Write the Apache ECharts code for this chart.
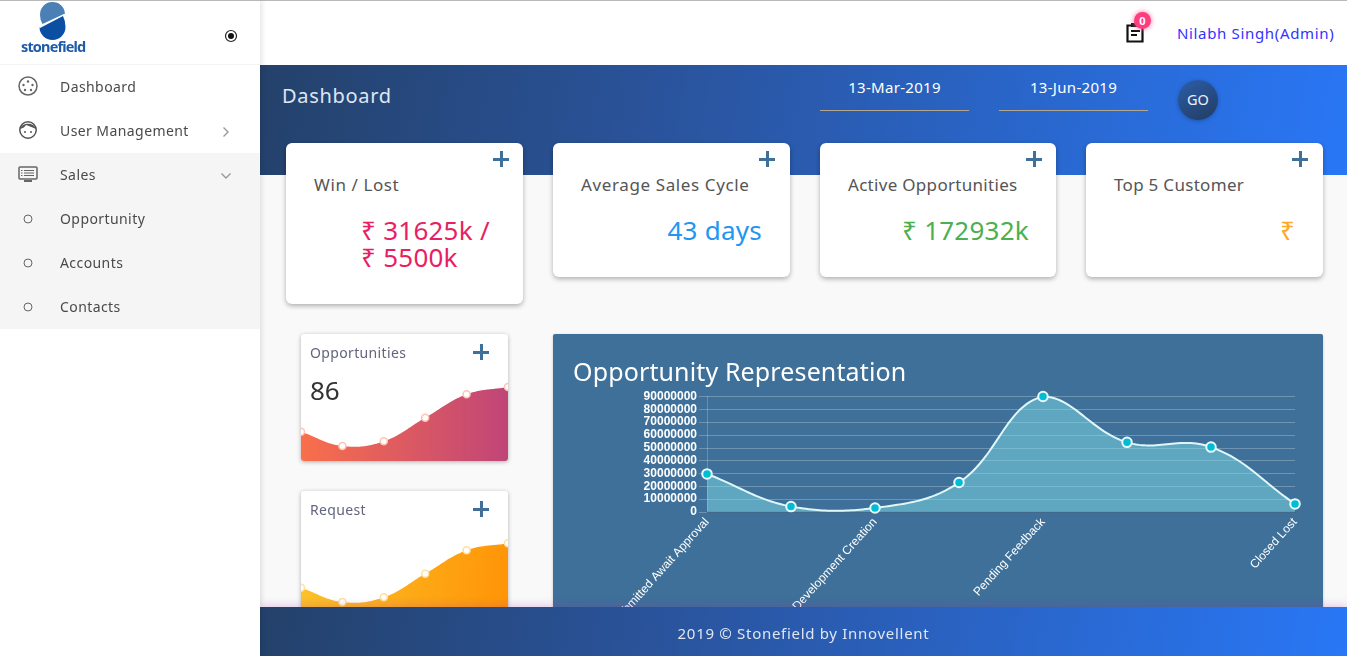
<!DOCTYPE html>
<html><head><meta charset="utf-8"><title>Dashboard</title>
<script src="https://cdn.jsdelivr.net/npm/echarts@6/dist/echarts.min.js"></script>
<style>
html,body{margin:0;padding:0;width:1347px;height:656px;overflow:hidden;background:#f9f9f9;font-family:"Noto Sans",sans-serif;color:#3c4858}
.abs,.abs *{box-sizing:border-box}
.abs{position:absolute}
#top{left:0;top:0;width:1347px;height:65px;background:#fff;border-top:1px solid #b9b9b9}
#hero{left:260px;top:65px;width:1087px;height:110px;background:linear-gradient(100deg,#24416a 0%,#2a55a0 40%,#2977f6 100%)}
#side{left:0;top:0;width:260px;height:656px;background:#fff;box-shadow:1px 0 6px rgba(0,0,0,.14);z-index:5;border-top:1px solid #b9b9b9}
#sales{left:0;top:152px;width:260px;height:176px;background:#f5f5f5}
#div{left:0;top:63px;width:260px;height:1px;background:#f3f3f3}
.nav{position:absolute;left:60px;font-size:14px;letter-spacing:.42px;color:#4a4a4a;line-height:20px}
.ico{position:absolute}
.card{position:absolute;background:#fff;border-radius:6px;box-shadow:0 2px 5px rgba(0,0,0,.3)}
.plus{position:absolute;width:16px;height:16px}
.plus:before,.plus:after{content:"";position:absolute;background:#3e7099}
.plus:before{left:0;top:6.5px;width:16px;height:3px}
.plus:after{left:6.5px;top:0;width:3px;height:16px}
.ct{position:absolute;font-size:17px;letter-spacing:.3px;color:#555;line-height:22px;white-space:nowrap}
.cv{position:absolute;font-size:26px;letter-spacing:.25px;line-height:27px;white-space:nowrap}
.rs{margin-right:7px}
.mini{position:absolute;left:301px;width:207px;background:#fff;border-radius:3px;overflow:hidden;box-shadow:0 1px 4px rgba(0,0,0,.3)}
.mt{position:absolute;left:9px;top:9px;font-size:14px;letter-spacing:.35px;color:#62657c;line-height:20px}
.mc{position:absolute;left:0;top:0;width:207px;height:127px}
#oppCard{left:553px;top:334px;width:770px;height:322px;background:#3e7099;border-radius:2px;box-shadow:0 1px 3px rgba(0,0,0,.2)}
#oppTitle{position:absolute;left:20px;top:20px;font-size:25px;letter-spacing:.13px;color:#fff;line-height:34px;white-space:nowrap}
#oppChart{position:absolute;left:0;top:0;width:770px;height:322px}
#foot{left:260px;top:607px;width:1087px;height:49px;background:linear-gradient(100deg,#24416a 0%,#2a55a0 40%,#2977f6 100%);box-shadow:0 -2px 8px rgba(156,39,176,.22);z-index:4;color:#dfe6f2;font-size:15px;text-align:center;line-height:52px;letter-spacing:.7px}
</style></head><body>
<div class="abs" id="top"></div>
<div class="abs" id="hero"></div>

<div class="abs" id="side">
  <svg class="ico" style="left:18px;top:0" width="72" height="56" viewBox="0 0 72 56">
    <path d="M22 27 L45 15 Q47.5 20 47.5 26 A13 13 0 0 1 21.5 26 Z" fill="#0b4fa3"/>
    <path d="M24.5 23 Q22 19 22 14 A12.5 12.5 0 0 1 47 13 L47 12.5 Z" fill="#4a80b5"/>
    <text x="3" y="51" font-family="Noto Sans" font-weight="700" font-size="14.5" letter-spacing="-.85" fill="#1e5ba8">stonefield</text>
  </svg>
  <svg class="ico" style="left:224px;top:28px" width="14" height="14" viewBox="0 0 14 14"><circle cx="7" cy="7" r="5.5" fill="none" stroke="#222" stroke-width="1.2"/><circle cx="7" cy="7" r="3" fill="#111"/></svg>
  <div class="abs" id="div"></div>
  <div class="abs" id="sales"></div>
  <svg class="ico" style="left:18px;top:75px" width="20" height="20" viewBox="0 0 20 20"><circle cx="10" cy="10" r="9" fill="none" stroke="#666" stroke-width="1.5"/><circle cx="10" cy="5.5" r="1.2" fill="#666"/><circle cx="5.5" cy="9" r="1.2" fill="#666"/><circle cx="14.5" cy="9" r="1.2" fill="#666"/><circle cx="7" cy="14" r="1.2" fill="#666"/><circle cx="13" cy="14" r="1.2" fill="#666"/></svg>
  <div class="nav" style="top:76px">Dashboard</div>
  <svg class="ico" style="left:18px;top:119px" width="20" height="20" viewBox="0 0 20 20"><circle cx="10" cy="10" r="8.2" fill="none" stroke="#555" stroke-width="1.5"/><path d="M2 9 C4 2 16 2 18 9 C14 7 11 6 8 5 C7 7 5 8 2 9Z" fill="#555"/><circle cx="7" cy="12" r="1" fill="#555"/><circle cx="13" cy="12" r="1" fill="#555"/></svg>
  <div class="nav" style="top:120px">User Management</div>
  <svg class="ico" style="left:222px;top:125px" width="8" height="12" viewBox="0 0 8 12"><path d="M1.5 1.5L6 6L1.5 10.5" fill="none" stroke="#999" stroke-width="1.4"/></svg>
  <svg class="ico" style="left:18px;top:165px" width="20" height="18" viewBox="0 0 20 18"><rect x="1" y="1" width="18" height="12" rx="1" fill="none" stroke="#666" stroke-width="1.5"/><path d="M6 4.5H16M6 7H16M6 9.5H16M3 4.5H4.5M3 7H4.5M3 9.5H4.5" stroke="#666" stroke-width="1.1"/><rect x="6" y="14" width="8" height="2" fill="#666"/></svg>
  <div class="nav" style="top:164px">Sales</div>
  <svg class="ico" style="left:220px;top:171px" width="12" height="8" viewBox="0 0 12 8"><path d="M1.5 1.5L6 6L10.5 1.5" fill="none" stroke="#999" stroke-width="1.4"/></svg>
  <svg class="ico" style="left:23px;top:213px" width="10" height="10"><circle cx="5" cy="5" r="4" fill="none" stroke="#666"/></svg>
  <div class="nav" style="top:208px">Opportunity</div>
  <svg class="ico" style="left:23px;top:257px" width="10" height="10"><circle cx="5" cy="5" r="4" fill="none" stroke="#666"/></svg>
  <div class="nav" style="top:252px">Accounts</div>
  <svg class="ico" style="left:23px;top:301px" width="10" height="10"><circle cx="5" cy="5" r="4" fill="none" stroke="#666"/></svg>
  <div class="nav" style="top:296px">Contacts</div>
</div>

<svg class="abs" style="left:1125px;top:20px" width="20" height="24" viewBox="0 0 20 24"><path d="M2.5 5.5H17.5V21.5H2.5Z" fill="#fff" stroke="#111" stroke-width="2.2"/><rect x="6" y="3" width="8" height="4" fill="#111"/><path d="M6 11H15M6 15H12" stroke="#111" stroke-width="2"/></svg>
<div class="abs" style="left:1134px;top:12px;width:17px;height:17px;border-radius:50%;background:#ff3d7f;box-shadow:0 0 5px #ff6b9a;color:#fff;font-size:11px;font-weight:700;text-align:center;line-height:17px">0</div>
<div class="abs" style="left:1177px;top:23px;font-size:15px;letter-spacing:.66px;color:#3333ff;line-height:20px;white-space:nowrap">Nilabh Singh(Admin)</div>

<div class="abs" style="left:282px;top:81px;font-size:20px;letter-spacing:.7px;color:#dfe6f2;line-height:30px;white-space:nowrap">Dashboard</div>
<div class="abs" style="left:820px;top:75px;width:149px;height:36px;border-bottom:1px solid #b3a68f;color:#fff;font-size:15px;letter-spacing:.3px;text-align:center;line-height:24px">13-Mar-2019</div>
<div class="abs" style="left:999px;top:75px;width:149px;height:36px;border-bottom:1px solid #b3a68f;color:#fff;font-size:15px;letter-spacing:.3px;text-align:center;line-height:24px">13-Jun-2019</div>
<div class="abs" style="left:1178px;top:80px;width:40px;height:40px;border-radius:50%;background:linear-gradient(150deg,#2b5ea8,#223c62);box-shadow:0 1px 4px rgba(0,0,0,.25);color:#eef;font-size:14.5px;text-align:center;line-height:39px">GO</div>

<div class="card" style="left:286px;top:143px;width:237px;height:161px"><div class="plus" style="left:207px;top:8px"></div><div class="ct" style="left:28px;top:31px;letter-spacing:.6px">Win / Lost</div>
  <div class="cv" style="left:75px;top:74px;color:#e91e63">₹ 31625k /<br>₹ 5500k</div></div>
<div class="card" style="left:553px;top:143px;width:237px;height:134px"><div class="plus" style="left:206px;top:8px"></div><div class="ct" style="left:28px;top:31px;letter-spacing:.62px">Average Sales Cycle</div>
  <div class="cv" style="right:28px;top:74px;color:#2196f3">43 days</div></div>
<div class="card" style="left:820px;top:143px;width:236px;height:134px"><div class="plus" style="left:206px;top:8px"></div><div class="ct" style="left:28px;top:31px">Active Opportunities</div>
  <div class="cv" style="right:27px;top:74px;color:#4caf50"><span class="rs">₹</span>172932k</div></div>
<div class="card" style="left:1086px;top:143px;width:237px;height:134px"><div class="plus" style="left:206px;top:8px"></div><div class="ct" style="left:28px;top:31px">Top 5 Customer</div>
  <div class="cv" style="right:28px;top:74px;color:#ffa726">₹</div></div>

<div class="mini" style="top:334px;height:127px"><div class="mc" id="mc1"></div><div class="mt">Opportunities</div><div class="plus" style="left:172px;top:10px"></div>
  <div style="position:absolute;left:9px;top:39px;font-size:26px;line-height:34px;color:#333">86</div></div>
<div class="mini" style="top:491px;height:127px"><div class="mc" id="mc2"></div><div class="mt">Request</div><div class="plus" style="left:172px;top:10px"></div></div>

<div class="abs" id="oppCard"><div id="oppChart"></div><div id="oppTitle">Opportunity Representation</div></div>

<div class="abs" id="foot">2019 © Stonefield by Innovellent</div>

<script>
// Only four stage names are legible; the others are not drawn in the reference.
var stages = ['Submitted Await Approval', '', 'Development Creation', '', 'Pending Feedback', '', '', 'Closed Lost'];
var amounts = [29700000, 4200000, 3100000, 23000000, 90000000, 54300000, 50600000, 6300000];
var yTicks = { min: 0, max: 90000000, step: 10000000 };
var opportunitiesTrend = [23.1, 11.8, 15.5, 34.1, 52.5, 58.3];
var requestTrend = [23.9, 12.6, 16.3, 34.9, 53.3, 58.8];
var trendSlots = ['1', '2', '3', '4', '5', '6'];

// Curve through the values, placed through the chart's own scales (api.coord).
function curveSeries(values, floor, fill, stroke, strokeWidth) {
  return {
    type: 'custom', silent: true, z: 1, clip: false, data: values.map(function (v, i) { return [i, v]; }),
    encode: { x: 0, y: 1 },
    renderItem: function (params, api) {
      if (params.dataIndex !== 0) return null;
      var pts = values.map(function (v, i) { return api.coord([i, v]); });
      var cs = params.coordSys, top = cs.y, bot = cs.y + cs.height, T = 0.4, line = [];
      var cp = pts.map(function (p, i) {
        var a = pts[i - 1] || p, b = pts[i + 1] || p;
        var d1 = Math.hypot(p[0] - a[0], p[1] - a[1]), d2 = Math.hypot(b[0] - p[0], b[1] - p[1]);
        var s = d1 + d2 || 1, f1 = T * d1 / s, f2 = T * d2 / s;
        function cap(y) { return Math.min(bot, Math.max(top, y)); }
        return [[p[0] - f1 * (b[0] - a[0]), cap(p[1] - f1 * (b[1] - a[1]))],
                [p[0] + f2 * (b[0] - a[0]), cap(p[1] + f2 * (b[1] - a[1]))]];
      });
      for (var i = 0; i < pts.length - 1; i++) {
        var p0 = pts[i], c0 = cp[i][1], c1 = cp[i + 1][0], p1 = pts[i + 1];
        for (var k = 0; k < 30; k++) {
          var t = k / 30, u = 1 - t, w = [u*u*u, 3*u*u*t, 3*u*t*t, t*t*t];
          line.push([w[0]*p0[0] + w[1]*c0[0] + w[2]*c1[0] + w[3]*p1[0],
                     w[0]*p0[1] + w[1]*c0[1] + w[2]*c1[1] + w[3]*p1[1]]);
        }
      }
      line.push(pts[pts.length - 1]);
      var left = api.coord([0, floor]), right = api.coord([values.length - 1, floor]);
      var children = [{ type: 'polygon', shape: { points: line.concat([right, left]) }, style: { fill: fill, stroke: 'none' } }];
      if (stroke) children.push({ type: 'polyline', shape: { points: line }, style: { fill: 'none', stroke: stroke, lineWidth: strokeWidth } });
      return { type: 'group', children: children };
    }
  };
}

var chart = echarts.init(document.getElementById('oppChart'));
chart.setOption({
  animation: false,
  grid: { left: 154, top: 62.5, width: 588, height: 115.5, containLabel: false },
  xAxis: {
    type: 'category', boundaryGap: false, data: stages,
    axisLine: { show: true, lineStyle: { color: '#34597f', width: 1.5 } },
    axisTick: { show: false },
    axisLabel: {
      interval: function (i) { return stages[i] !== ''; },
      rotate: 48, margin: 8, color: '#fff', fontSize: 12, fontFamily: 'Liberation Sans'
    },
    splitLine: { show: false }
  },
  yAxis: {
    type: 'value', min: yTicks.min, max: yTicks.max, interval: yTicks.step,
    axisLine: { show: true, lineStyle: { color: 'rgba(255,255,255,.22)' } },
    axisTick: { show: true, length: 8, lineStyle: { color: 'rgba(255,255,255,.25)' } },
    axisLabel: { margin: 10, color: '#fff', fontSize: 12, fontWeight: 'bold', fontFamily: 'Liberation Sans',
      formatter: function (v) { return String(v); } },
    splitLine: { show: true, lineStyle: { color: 'rgba(255,255,255,.25)', width: 1 } }
  },
  series: [
    curveSeries(amounts, 0, 'rgba(128,222,234,.5)', '#e0f7fa', 2),
    {
      type: 'line', data: amounts, z: 3, clip: false,
      symbol: 'circle', symbolSize: 9.5, showAllSymbol: true,
      lineStyle: { width: 0, opacity: 0 },
      itemStyle: { color: '#00bcd4', borderColor: '#e8fbfd', borderWidth: 2 }
    }
  ]
});

function mini(id, data, c1, c2, x2, y2, border) {
  var c = echarts.init(document.getElementById(id));
  c.setOption({
    animation: false,
    grid: { left: 0, right: 0, top: 0, bottom: 0 },
    xAxis: { type: 'category', boundaryGap: false, data: trendSlots, show: false },
    yAxis: { type: 'value', min: 0, max: 100, show: false },
    series: [
      curveSeries(data, 0, new echarts.graphic.LinearGradient(0, 0, x2, y2, [
        { offset: 0, color: c1 }, { offset: 1, color: c2 }]), null, 0),
      {
        type: 'line', data: data, z: 3, clip: false,
        symbol: 'circle', symbolSize: 7, showAllSymbol: true,
        lineStyle: { width: 0, opacity: 0 },
        itemStyle: { color: '#fff', borderColor: border, borderWidth: 1.5 }
      }
    ]
  });
}
mini('mc1', opportunitiesTrend, '#f96f4b', '#c04578', 1, 0, '#fbc4b4');
mini('mc2', requestTrend, '#fcc22a', '#ff9507', 1, 0.3, '#fde0a0');
</script>
</body></html>
